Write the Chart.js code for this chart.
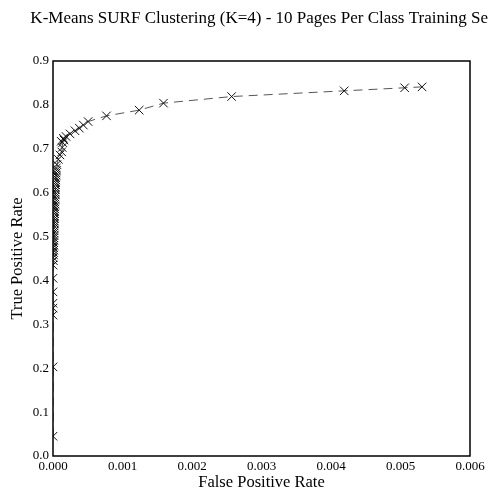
<!DOCTYPE html>
<html><head><meta charset="utf-8">
<script src="https://cdn.jsdelivr.net/npm/chart.js@4/dist/chart.umd.min.js"></script>
<style>html,body{margin:0;padding:0;overflow:hidden;background:#fff}#wrap{width:523px;height:493px;position:relative}</style>
</head><body><div id="wrap"><canvas id="c"></canvas></div>
<script>
const chartTitle = 'K-Means SURF Clustering (K=4) - 10 Pages Per Class Training Set';
const xLabel = 'False Positive Rate';
const yLabel = 'True Positive Rate';
const xTicks = [0, 0.001, 0.002, 0.003, 0.004, 0.005, 0.006];
const yTicks = [0, 0.1, 0.2, 0.3, 0.4, 0.5, 0.6, 0.7, 0.8, 0.9];

const fpr = [
  0, 0, 0, 0, 0, 0, 0, 0,
  0.000005, 0.000004, 0.000008, 0.000006, 0.00001, 0.000008, 0.000012, 0.00001,
  0.000013, 0.000011, 0.000015, 0.000014, 0.000017, 0.000015, 0.000018, 0.00002,
  0.000019, 0.000022, 0.00002, 0.000024, 0.000023, 0.000026, 0.000025, 0.000028,
  0.000027, 0.00003, 0.000029, 0.000033, 0.000031, 0.000035, 0.000034, 0.000038,
  0.000037, 0.000041, 0.00004, 0.000045, 0.000044, 0.00005, 0.000048, 0.000055,
  0.000077, 0.0001, 0.000125, 0.000132, 0.00014, 0.000118, 0.000158, 0.00015,
  0.000187, 0.000245, 0.000317, 0.000379, 0.000437, 0.000505, 0.00077, 0.00124,
  0.00159, 0.00257, 0.00419, 0.00506, 0.00531
];
const tpr = [
  0.045, 0.203, 0.321, 0.337, 0.348, 0.374, 0.405, 0.435,
  0.445, 0.452, 0.458, 0.464, 0.469, 0.475, 0.480, 0.486,
  0.491, 0.497, 0.502, 0.508, 0.513, 0.519, 0.524, 0.530,
  0.535, 0.541, 0.546, 0.552, 0.557, 0.563, 0.568, 0.574,
  0.579, 0.585, 0.590, 0.596, 0.601, 0.607, 0.612, 0.618,
  0.623, 0.629, 0.634, 0.640, 0.645, 0.651, 0.656, 0.664,
  0.676, 0.686, 0.693, 0.703, 0.714, 0.717, 0.720, 0.724,
  0.728, 0.734, 0.741, 0.747, 0.754, 0.762, 0.775, 0.788,
  0.804, 0.819, 0.832, 0.839, 0.841
];

const serif = '"Liberation Serif", "DejaVu Serif", serif';
const points = fpr.map((x, i) => ({x: x, y: tpr[i]}));

const frame = {
  id: 'frame',
  afterDatasetsDraw(chart) {
    const a = chart.chartArea, ctx = chart.ctx;
    ctx.save();
    ctx.strokeStyle = '#000';
    ctx.lineWidth = 1.5;
    ctx.strokeRect(a.left, a.top, a.right - a.left, a.bottom - a.top);
    ctx.restore();
  }
};

new Chart(document.getElementById('c'), {
  type: 'scatter',
  data: {
    datasets: [{
      data: points,
      showLine: true,
      borderColor: '#555',
      borderWidth: 1,
      borderDash: [9, 6],
      pointStyle: 'crossRot',
      pointRadius: 6,
      pointHoverRadius: 6,
      pointBorderColor: '#111',
      pointBackgroundColor: '#111',
      pointBorderWidth: 1,
      clip: 0
    }]
  },
  plugins: [frame],
  options: {
    responsive: true,
    maintainAspectRatio: false,
    animation: false,
    devicePixelRatio: 1,
    layout: {padding: 0},
    plugins: {
      legend: {display: false},
      tooltip: {enabled: false},
      title: {
        display: true,
        text: chartTitle,
        color: '#000',
        font: {family: serif, size: 17, weight: 'normal'},
        padding: {top: 8, bottom: 32.6}
      }
    },
    scales: {
      x: {
        type: 'linear',
        min: 0, max: 0.006,
        afterBuildTicks: s => { s.ticks = xTicks.map(v => ({value: v})); },
        afterFit: s => { s.height = 37; },
        grid: {display: false, drawTicks: false},
        border: {display: false},
        ticks: {
          color: '#000', padding: 3,
          font: {family: serif, size: 13},
          callback: v => Number(v).toFixed(3),
          maxRotation: 0, autoSkip: false
        },
        title: {
          display: true, text: xLabel, color: '#000',
          font: {family: serif, size: 16.5},
          padding: {top: 0, bottom: 0}
        }
      },
      y: {
        type: 'linear',
        min: 0, max: 0.9,
        afterBuildTicks: s => { s.ticks = yTicks.map(v => ({value: v})); },
        afterFit: s => { s.width = 53; },
        grid: {display: false, drawTicks: false},
        border: {display: false},
        ticks: {
          color: '#000', padding: 4,
          font: {family: serif, size: 13},
          callback: v => Number(v).toFixed(1),
          autoSkip: false
        },
        title: {
          display: true, text: yLabel, color: '#000',
          font: {family: serif, size: 16.5},
          padding: {top: 8, bottom: 0}
        }
      },
      yRight: {
        type: 'linear',
        position: 'right',
        min: 0, max: 0.9,
        afterFit: s => { s.width = 53; },
        grid: {display: false, drawTicks: false},
        border: {display: false},
        ticks: {display: false}
      }
    }
  }
});
</script>
</body></html>
